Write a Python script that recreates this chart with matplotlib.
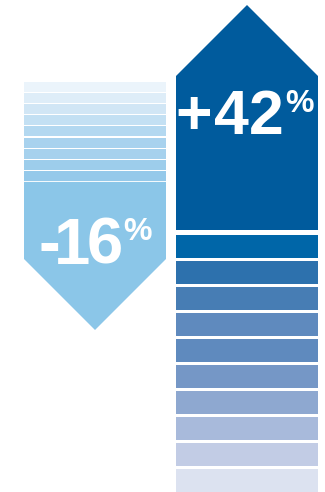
import matplotlib
matplotlib.use("Agg")
import matplotlib.pyplot as plt
from matplotlib.patches import Polygon, Rectangle

# ---- data ----
changes = [-16, 42]
labels = ["-16", "+42"]
down_stripe_colors = ["#EBF4FB", "#DEEDF8", "#D1E6F5", "#C3E0F3", "#B3D8F0",
                      "#A8D2EE", "#A6D1ED", "#9DCDEB", "#95C9EA"]
down_body_color = "#8BC6E8"
up_stripe_colors = ["#0066A8", "#2D71AD", "#477DB4", "#5F8ABE", "#5F8ABE",
                    "#7597C6", "#8EA8D0", "#A8BADB", "#C2CCE5", "#DCE2F0"]
up_body_color = "#005B9D"

# ---- layout (pixel space) ----
W, H = 325, 492
fig = plt.figure(figsize=(W / 100, H / 100), dpi=100)
ax = fig.add_axes([0, 0, 1, 1])
ax.set_xlim(0, W)
ax.set_ylim(H, 0)
ax.axis("off")

font = ["Liberation Sans", "DejaVu Sans"]


def draw_label(text, centers, baseline, size, pct_center, pct_base, pct_size):
    for ch, cx in zip(text, centers):
        ax.text(cx, baseline, ch, color="white", fontsize=size,
                fontweight="bold", family=font, ha="center", va="baseline")
    ax.text(pct_center, pct_base, "%", color="white", fontsize=pct_size,
            fontweight="bold", family=font, ha="center", va="baseline")


# Down arrow (left)
lx0, lx1 = 24, 166
s_top, s_step, s_h = 82, 11.1, 10
for i, c in enumerate(down_stripe_colors):
    ax.add_patch(Rectangle((lx0, s_top + i * s_step), lx1 - lx0, s_h,
                           facecolor=c, edgecolor="none"))
body_top = s_top + len(down_stripe_colors) * s_step
shoulder, tip = 259, 330
ax.add_patch(Polygon([(lx0, body_top), (lx1, body_top), (lx1, shoulder),
                      ((lx0 + lx1) / 2, tip), (lx0, shoulder)],
                     closed=True, facecolor=down_body_color, edgecolor="none"))
draw_label(labels[0], [49.5, 72.5, 104.5], 264, 47, 137.5, 240, 23)

# Up arrow (right)
rx0, rx1 = 176, 318
r_tip, r_shoulder, r_body_bot = 5, 76, 230
ax.add_patch(Polygon([(rx0, r_body_bot), (rx0, r_shoulder),
                      ((rx0 + rx1) / 2, r_tip), (rx1, r_shoulder),
                      (rx1, r_body_bot)],
                     closed=True, facecolor=up_body_color, edgecolor="none"))
u_top, u_step, u_h = 235, 26, 23
for i, c in enumerate(up_stripe_colors):
    ax.add_patch(Rectangle((rx0, u_top + i * u_step), rx1 - rx0, u_h,
                           facecolor=c, edgecolor="none"))
draw_label(labels[1], [193.5, 231, 266], 134, 45, 299.5, 112, 23)

fig.savefig("out.png", dpi=100)
